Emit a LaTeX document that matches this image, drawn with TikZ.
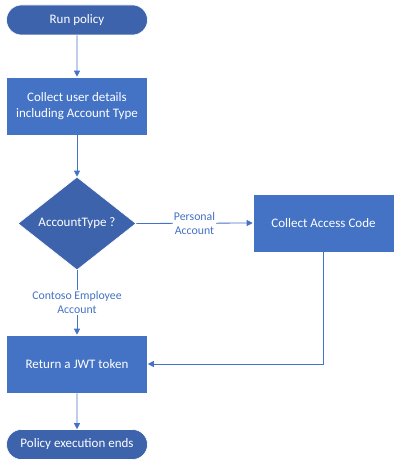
\documentclass[tikz,border=0pt]{standalone}
\usepackage{fontspec}
\setmainfont{Carlito}
\usetikzlibrary{shapes.geometric,shapes.misc,arrows.meta}
\definecolor{boxblue}{HTML}{4472C4}
\definecolor{darkblue}{HTML}{3D63AC}
\definecolor{lineblue}{HTML}{4472C4}
\tikzset{
  terminal/.style={rounded rectangle, fill=darkblue, draw=white, line width=0.6pt, minimum width=141pt, minimum height=30pt, text=white, font=\fontsize{13}{15}\selectfont, inner sep=0pt},
  procbox/.style={rectangle, fill=boxblue, draw=white, line width=0.6pt, minimum width=141pt, minimum height=58pt, text=white, font=\fontsize{13}{16}\selectfont, align=center, inner sep=0pt},
  decision/.style={diamond, fill=darkblue, draw=white, line width=0.6pt, minimum width=118pt, minimum height=93pt, aspect=1.27, text=white, font=\fontsize{13}{15}\selectfont, inner sep=0pt},
  conn/.style={draw=lineblue, line width=0.8pt, -{Triangle[length=6pt,width=6pt]}},
  lbl/.style={fill=white, text=lineblue, font=\fontsize{11.8}{14}\selectfont, align=center, inner sep=1pt}
}
\begin{document}
\begin{tikzpicture}[x=1pt,y=-1pt]
\useasboundingbox (0,0) rectangle (400,465);
\node[terminal] (start) at (77,20) {Run policy};
\node[procbox] (collect) at (77,106) {Collect user details\\including Account Type};
\node[decision] (dec) at (77,223.5) {AccountType ?};
\node[procbox] (code) at (323.5,223) {Collect Access Code};
\node[procbox] (jwt) at (77,364) {Return a JWT token};
\node[terminal] (end) at (77,444.5) {Policy execution ends};
\draw[conn] (start) -- (collect);
\draw[conn] (collect) -- (dec);
\draw[conn] (dec.east) -- node[lbl] {Personal\\Account} (code.west);
\draw[conn] (dec.south) -- node[lbl] {Contoso Employee\\Account} (jwt.north);
\draw[conn] (code.south) |- (jwt.east);
\draw[conn] (jwt) -- (end);
\end{tikzpicture}
\end{document}
